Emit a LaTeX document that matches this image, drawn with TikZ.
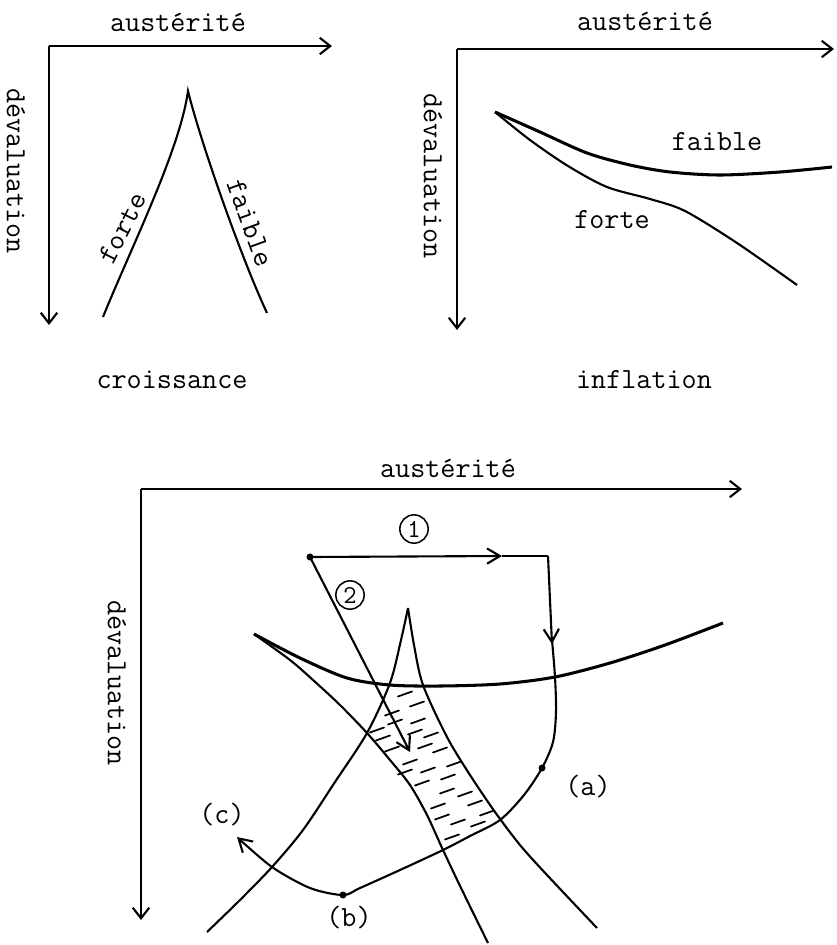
\documentclass[tikz,border=0pt]{standalone}
\usepackage{fontspec}
\usetikzlibrary{arrows.meta}

\tikzset{
  axe/.style={-{Straight Barb[length=9pt,width=14pt]}},
  fleche/.style={-{Straight Barb[length=11pt,width=13pt]}},
  epais/.style={line width=2.6pt},
  tiret/.style={line width=1.5pt, line cap=round},
  pastille/.style={circle, draw, line width=1.3pt, inner sep=0pt, minimum size=0.85cm, font=\ttfamily\fontsize{22}{22}\selectfont},
}

\begin{document}
\begin{tikzpicture}[x=0.03cm, y=-0.03cm, line width=1.8pt, font=\ttfamily\fontsize{25}{30}\selectfont]
  \useasboundingbox (0,0) rectangle (837,945);

  % croissance
  \begin{scope}
    \coordinate (oA) at (49,46);
    \coordinate (xA) at (332,46);
    \coordinate (yA) at (49,325);
    \draw[axe] (oA) -- (xA);
    \draw[axe] (oA) -- (yA);
    \node (ausA) at (178,22) {austérité};
    \node[rotate=-90] (devA) at (16,171) {dévaluation};
    \coordinate (picA) at (188,91);
    \coordinate (gA) at (103,317);
    \coordinate (dA) at (267,313);
    \draw (gA) .. controls (130,250) and (180,150) .. (picA) .. controls (200,140) and (240,255) .. (dA);
    \node[rotate=63] (forteA) at (122,228) {forte};
    \node[rotate=-70] (faibleA) at (250,223) {faible};
    \node (croiss) at (172,380) {croissance};
  \end{scope}

  % inflation
  \begin{scope}
    \coordinate (oB) at (457,49);
    \coordinate (xB) at (834,49);
    \coordinate (yB) at (457,330);
    \draw[axe] (oB) -- (xB);
    \draw[axe] (oB) -- (yB);
    \node (ausB) at (645,21) {austérité};
    \node[rotate=-90] (devB) at (433,176) {dévaluation};
    \draw[epais] plot[smooth] coordinates {(495,112) (540,132) (587,153) (630,165) (670,172) (720,175) (780,172) (832,167)};
    \draw plot[smooth] coordinates {(495,112) (530,140) (568,166) (607,187) (650,199) (685,211) (737,243) (797,285)};
    \node (faibleB) at (717,142) {faible};
    \node (forteB) at (612,220) {forte};
    \node (infl) at (644,380) {inflation};
  \end{scope}

  % les deux ensemble
  \begin{scope}
    \coordinate (oC) at (141,489);
    \coordinate (xC) at (742,489);
    \coordinate (yC) at (141,920);
    \draw[axe] (oC) -- (xC);
    \draw[axe] (oC) -- (yC);
    \node (ausC) at (448,468) {austérité};
    \node[rotate=-90] (devC) at (117,683) {dévaluation};
    % inflation
    \draw[epais] plot[smooth] coordinates {(254,634) (300,658) (347,678) (390,685) (440,686) (500,684) (555,677) (610,663) (665,645) (723,623)};
    \draw plot[smooth] coordinates {(254,634) (290,660) (313,680) (340,705) (367,733) (390,760) (410,785) (427,815) (443,850) (462,890) (488,943)};
    % croissance
    \draw plot[smooth] coordinates {(207,932) (240,900) (272,867) (303,830) (335,782) (367,733) (390,683) (401,640) (408,608)};
    \draw plot[smooth] coordinates {(408,608) (414,645) (423,685) (447,737) (470,775) (495,812) (520,845) (547,875) (597,928)};
    % zone hachuree
    \foreach \hx/\hy in {405/694, 417/704, 392/713, 395/722, 418/721, 377/730, 415/732, 383/738,
                         431/735, 392/749, 425/746, 440/750, 410/762, 454/764, 405/772, 428/770,
                         448/777, 422/783, 447/791, 465/794, 438/806, 475/803, 442/817, 487/813,
                         458/822, 478/824, 452/837} {
      \draw[tiret] (\hx-7,\hy+2.5) -- (\hx+7,\hy-2.5);
    }
    % trajectoires
    \coordinate (p0) at (310,557);
    \coordinate (m1) at (502,556);
    \coordinate (coin) at (548,556);
    \coordinate (m2) at (552,644);
    \coordinate (f2) at (410,752);
    \coordinate (pa) at (542,768);
    \coordinate (pb) at (343,895);
    \draw[fleche] (p0) -- (m1);
    \draw (m1) -- (coin);
    \draw[fleche] (coin) -- (m2);
    \draw[fleche] plot[smooth] coordinates {(552,640) (555,677) (556,712) (553,742) (542,768) (524,795) (500,820) (470,836) (443,850) (400,870) (360,888) (343,895) (310,888) (272,867) (237,837)};
    \draw[fleche] (p0) -- (f2);
    \fill (p0) circle (3.5);
    \fill (pa) circle (3.5);
    \fill (pb) circle (3.5);
    \node[pastille] (un) at (414,529) {1};
    \node[pastille] (deux) at (350,595) {2};
    \node (la) at (588,787) {(a)};
    \node (lb) at (349,918) {(b)};
    \node (lc) at (222,815) {(c)};
  \end{scope}
\end{tikzpicture}
\end{document}
